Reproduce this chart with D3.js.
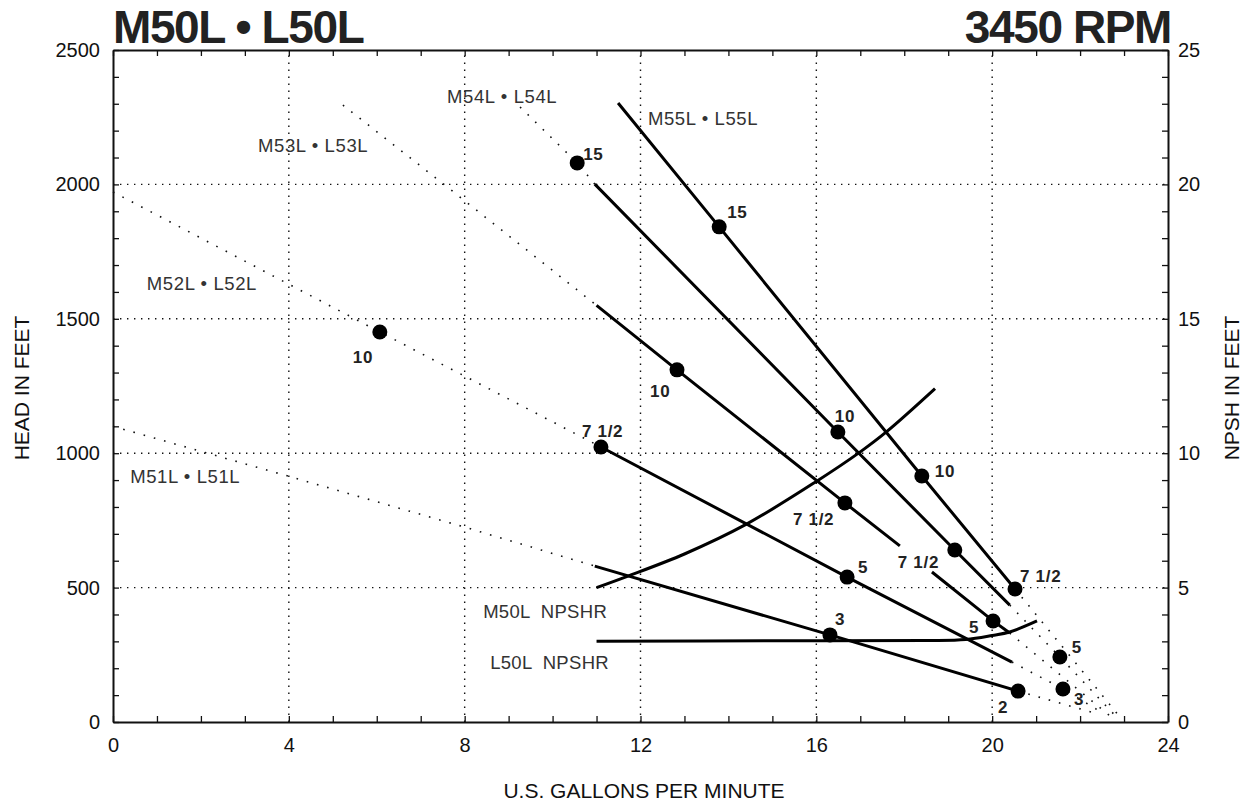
<!DOCTYPE html>
<html><head><meta charset="utf-8">
<script src="https://cdn.jsdelivr.net/npm/d3@7"></script>
<style>
body{margin:0;background:#fff;}
svg{display:block;font-family:"Liberation Sans",Arial,Helvetica,sans-serif;}
</style>
</head><body><svg id="c" width="1246" height="804"></svg>
<script>
// ---------------- DATA ----------------
const gpmTicks = [0, 4, 8, 12, 16, 20, 24];
const headTicks = [0, 500, 1000, 1500, 2000, 2500];
const npshTicks = [0, 5, 10, 15, 20, 25];

const modelNames = ["M51L • L51L", "M52L • L52L", "M53L • L53L", "M54L • L54L", "M55L • L55L"];

// dotted lead-in part of each head curve [gpm, head ft]
const dottedCurves = [
  [[0, 1100], [4, 914], [8, 725], [10.96, 580]],
  [[0, 1972], [6.07, 1451], [11.10, 1023]],
  [[5.23, 2295], [7.53, 2000], [11, 1550]],
  [[9.26, 2288], [10.56, 2080], [10.96, 2001]],
  []
];
// solid working part of each head curve (may be split in segments)
const solidCurves = [
  [[[10.96, 580], [16.31, 324], [20.59, 115]]],
  [[[11.10, 1023], [16.70, 539], [20.45, 223]]],
  [[[11, 1550], [12.83, 1310], [16.65, 815], [17.9, 655]],
   [[18.63, 558], [20.02, 376], [20.4, 331]]],
  [[[10.96, 2001], [16.49, 1079], [19.15, 640], [20.4, 435]]],
  [[[11.49, 2303], [13.79, 1842], [18.40, 915], [20.52, 495]]]
];
// dotted run-out part of each head curve
const runoutCurves = [
  [[20.59, 115], [22.4, 30]],
  [[20.45, 223], [21.61, 123], [22.55, 30]],
  [[20.4, 331], [22.7, 20]],
  [[20.4, 435], [21.54, 242], [22.85, 15]],
  [[20.52, 495], [22.95, 10]]
];

// motor HP change points: model index, gpm, head, hp label
const hpModel = [0, 0, 1, 1, 1, 1, 2, 2, 2, 3, 3, 3, 3, 4, 4, 4];
const hpGpm   = [16.31, 20.59, 6.07, 11.10, 16.70, 21.61, 12.83, 16.65, 20.02, 10.56, 16.49, 19.15, 21.54, 13.79, 18.40, 20.52];
const hpHead  = [324, 115, 1451, 1023, 539, 123, 1310, 815, 376, 2080, 1079, 640, 242, 1842, 915, 495];
const hpLabel = ["3", "2", "10", "7 1/2", "5", "3", "10", "7 1/2", "5", "15", "10", "7 1/2", "5", "15", "10", "7 1/2"];

// NPSHR curves [gpm, NPSH ft]
const npshrNames = ["M50L  NPSHR", "L50L  NPSHR"];
const npshrM50L = [[11, 5.0], [11.7, 5.42], [13, 6.25], [14.4, 7.35], [16.0, 8.95], [17.0, 10.05], [17.6, 10.8], [18.7, 12.4]];
const npshrL50L = [[11, 3.0], [15, 3.02], [18.5, 3.03], [19.4, 3.07], [20.0, 3.22], [20.4, 3.35], [21.02, 3.76]];

// ---------------- LAYOUT / STYLE ----------------
const svg = d3.select("#c");
const x = d3.scaleLinear().domain([0, 24]).range([113, 1168]);
const y = d3.scaleLinear().domain([0, 2500]).range([722, 50]);
const yR = d3.scaleLinear().domain([0, 25]).range([722, 50]);

// label anchors (data coords) for curve names
const nameAnchors = [[0.39, 889], [0.77, 1607], [3.30, 2121], [7.60, 2303], [12.17, 2221]];
const npshrAnchors = [[8.42, 3.87], [8.58, 1.97]];
// pixel offsets of HP labels from their dots
const hpOffsets = [[5, -10], [-20, 22], [-27, 31], [-19, -10], [11, -4], [11, 16], [-27, 27], [-52, 22], [-24, 12],
                   [6, -3], [-3, -10], [-57, 18], [12, -4], [8, -9], [13, 1], [5, -7]];

const ink = "#111";

// grid
const grid = svg.append("g").attr("stroke", ink).attr("stroke-width", 1.4).attr("stroke-dasharray", "1.4,5.6");
gpmTicks.filter(d => d > 0 && d < 24).forEach(d => {
  grid.append("line").attr("x1", x(d)).attr("x2", x(d)).attr("y1", y(0)).attr("y2", y(2500));
});
headTicks.filter(d => d > 0 && d < 2500).forEach(d => {
  grid.append("line").attr("x1", x(0)).attr("x2", x(24)).attr("y1", y(d)).attr("y2", y(d));
});

// axes
function styleAxis(g) {
  g.select(".domain").attr("stroke", ink).attr("stroke-width", 2);
  g.selectAll(".tick line").attr("stroke", ink).attr("stroke-width", 1.3);
  g.selectAll(".tick text").attr("fill", ink).style("font-size", "20px")
    .style("font-family", '"Liberation Sans",Arial,Helvetica,sans-serif');
}
const fmtX = d => (gpmTicks.includes(d) ? d : "");
svg.append("g").attr("transform", `translate(0,${y(0)})`)
  .call(d3.axisBottom(x).tickValues(d3.range(0, 25, 1)).tickSizeInner(-6).tickSizeOuter(0).tickPadding(16).tickFormat(fmtX))
  .call(styleAxis);
svg.append("g").attr("transform", `translate(0,${y(2500)})`)
  .call(d3.axisTop(x).tickValues(d3.range(0, 25, 1)).tickSizeInner(-6).tickSizeOuter(0).tickFormat(""))
  .call(styleAxis);
const fmtY = d => (headTicks.includes(d) ? d : "");
svg.append("g").attr("transform", `translate(${x(0)},0)`)
  .call(d3.axisLeft(y).tickValues(d3.range(0, 2501, 100)).tickSizeInner(-6).tickSizeOuter(0).tickPadding(13).tickFormat(fmtY))
  .call(styleAxis);
const fmtR = d => (npshTicks.includes(d) ? d : "");
svg.append("g").attr("transform", `translate(${x(24)},0)`)
  .call(d3.axisRight(yR).tickValues(d3.range(0, 26, 1)).tickSizeInner(-6).tickSizeOuter(0).tickPadding(10).tickFormat(fmtR))
  .call(styleAxis);

// curves
const lineH = d3.line().x(d => x(d[0])).y(d => y(d[1]));
const lineN = d3.line().x(d => x(d[0])).y(d => yR(d[1])).curve(d3.curveCatmullRom.alpha(0.5));
const dotted = svg.append("g").attr("fill", "none").attr("stroke", ink).attr("stroke-width", 1.6)
  .attr("stroke-dasharray", "1.6,9");
dottedCurves.forEach(c => { if (c.length) dotted.append("path").attr("d", lineH(c)); });
runoutCurves.forEach(c => dotted.append("path").attr("d", lineH(c)));

const solid = svg.append("g").attr("fill", "none").attr("stroke", "#000").attr("stroke-width", 3);
solidCurves.forEach(segs => segs.forEach(s => solid.append("path").attr("d", lineH(s))));
solid.append("path").attr("d", lineN(npshrM50L));
solid.append("path").attr("d", lineN(npshrL50L));

// HP dots
svg.append("g").selectAll("circle").data(hpGpm).join("circle")
  .attr("cx", (d, i) => x(d)).attr("cy", (d, i) => y(hpHead[i])).attr("r", 7.5).attr("fill", "#000");
svg.append("g").selectAll("text").data(hpLabel).join("text")
  .attr("x", (d, i) => x(hpGpm[i]) + hpOffsets[i][0])
  .attr("y", (d, i) => y(hpHead[i]) + hpOffsets[i][1])
  .attr("fill", "#222").style("font-size", "17px").style("font-weight", "bold").style("letter-spacing", "0.7px")
  .text(d => d);

// curve name labels
svg.append("g").selectAll("text").data(modelNames).join("text")
  .attr("x", (d, i) => x(nameAnchors[i][0])).attr("y", (d, i) => y(nameAnchors[i][1]))
  .attr("fill", "#333").style("font-size", "18.5px").style("letter-spacing", "0.6px").style("white-space", "pre")
  .text(d => d);
svg.append("g").selectAll("text").data(npshrNames).join("text")
  .attr("x", (d, i) => x(npshrAnchors[i][0])).attr("y", (d, i) => yR(npshrAnchors[i][1]))
  .attr("fill", "#333").style("font-size", "18.5px").style("letter-spacing", "0.3px").style("white-space", "pre")
  .text(d => d);

// titles
svg.append("text").attr("x", 113).attr("y", 43).attr("fill", "#222")
  .style("font-size", "46px").style("font-weight", "bold").style("letter-spacing", "-1.4px")
  .text("M50L • L50L");
svg.append("text").attr("x", 1171).attr("y", 43).attr("text-anchor", "end").attr("fill", "#222")
  .style("font-size", "46px").style("font-weight", "bold").style("letter-spacing", "-1.4px")
  .text("3450 RPM");

// axis titles
svg.append("text").attr("transform", "translate(29,388) rotate(-90)").attr("text-anchor", "middle")
  .attr("fill", ink).style("font-size", "21px").text("HEAD IN FEET");
svg.append("text").attr("transform", "translate(1239,388) rotate(-90)").attr("text-anchor", "middle")
  .attr("fill", ink).style("font-size", "21px").text("NPSH IN FEET");
svg.append("text").attr("x", 644).attr("y", 798).attr("text-anchor", "middle")
  .attr("fill", ink).style("font-size", "21px").text("U.S. GALLONS PER MINUTE");
</script>
</body></html>
